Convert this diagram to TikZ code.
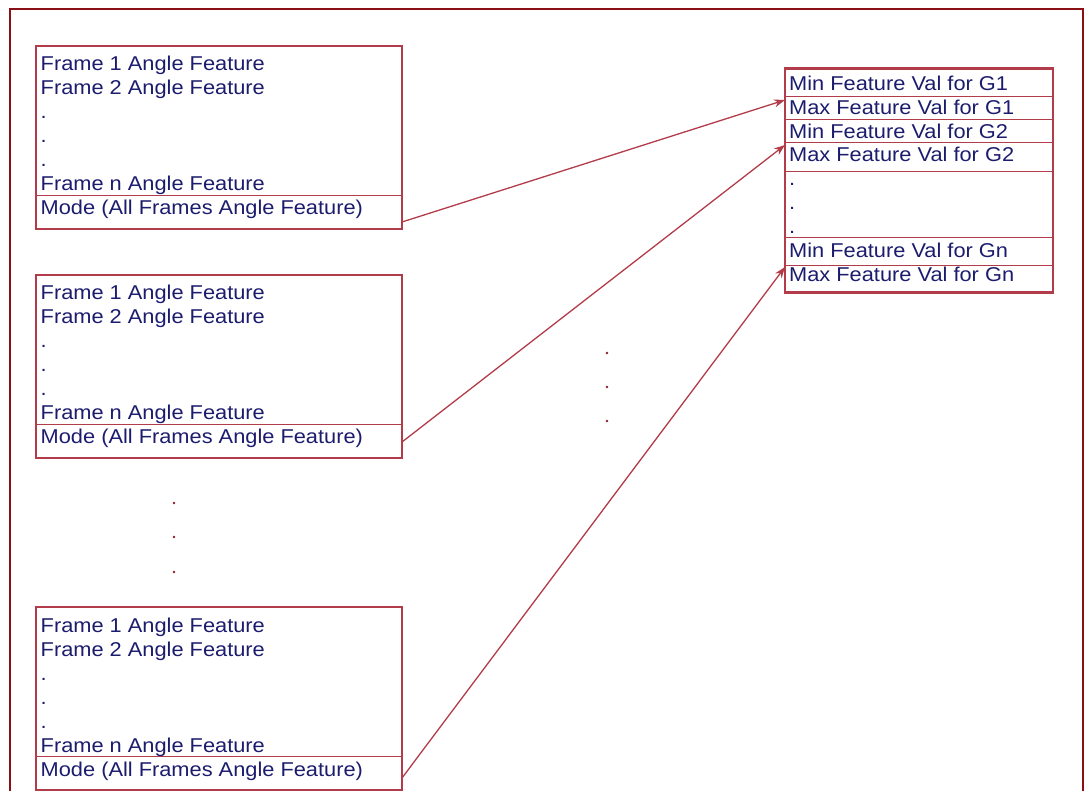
\documentclass[tikz,border=0pt]{standalone}
\usepackage{fontspec}
\setmainfont{Liberation Sans}[FakeStretch=1.09]
\usetikzlibrary{arrows.meta}
\definecolor{framered}{RGB}{139,16,22}
\definecolor{boxred}{RGB}{178,60,74}
\definecolor{inkblue}{RGB}{28,28,110}
\definecolor{dotred}{RGB}{140,30,45}

% One stack of per-frame angle features with its mode row.
% #1 = name prefix, #2 = vertical offset
\newcommand\featstack[2]{%
  \node[boxshape, minimum width=366pt, minimum height=183pt] (#1) at (36,{#2+46}) {};
  \draw[divider] (36,{#2+195.7}) -- (402,{#2+195.7});
  \node[rowtext] (#1-r1) at (40.5,{#2+71})  {Frame 1 Angle Feature};
  \node[rowtext] (#1-r2) at (40.5,{#2+95})  {Frame 2 Angle Feature};
  \node[rowtext] (#1-r3) at (40.5,{#2+119}) {.};
  \node[rowtext] (#1-r4) at (40.5,{#2+143}) {.};
  \node[rowtext] (#1-r5) at (40.5,{#2+167}) {.};
  \node[rowtext] (#1-rn) at (40.5,{#2+191}) {Frame n Angle Feature};
  \node[rowtext] (#1-mode) at (40.5,{#2+215}) {Mode (All Frames Angle Feature)};
}

\begin{document}
\begin{tikzpicture}[x=1pt,y=-1pt,
  boxshape/.style={draw=boxred, line width=2.4pt, rectangle, inner sep=0pt, outer sep=0pt, anchor=north west},
  divider/.style={draw=boxred, line width=1pt},
  rowtext/.style={inner sep=0pt, anchor=base west, text=inkblue, font=\fontsize{20}{24}\selectfont},
  link/.style={draw=boxred, line width=1.3pt, -{Stealth[length=11pt,width=8pt]}},
  gapdot/.style={circle, fill=dotred, inner sep=0pt, minimum size=2.8pt}]

\useasboundingbox (0,0) rectangle (1085,791);
\clip (0,0) rectangle (1085,791);

% outer frame
\draw[framered, line width=2pt] (10,9.5) rectangle (1082.5,800);

% feature stacks
\featstack{A}{0}
\featstack{B}{229}
\featstack{C}{561}

% vertical ellipsis between stacks
\node[gapdot] (v1) at (174,503) {};
\node[gapdot] (v2) at (174,537) {};
\node[gapdot] (v3) at (174,572) {};

% ellipsis between the connectors
\node[gapdot] (m1) at (607,353) {};
\node[gapdot] (m2) at (607,387) {};
\node[gapdot] (m3) at (607,421) {};

% per-group min/max table
\node[boxshape, minimum width=268pt, minimum height=224pt] (G) at (785,68.5) {};
\foreach \yy in {97,120,143,172,238,266}
  \draw[divider] (785,\yy) -- (1053,\yy);
\node[rowtext] (g1min) at (789,90.7)  {Min Feature Val for G1};
\node[rowtext] (g1max) at (789,114.5) {Max Feature Val for G1};
\node[rowtext] (g2min) at (789,138.3) {Min Feature Val for G2};
\node[rowtext] (g2max) at (789,162)   {Max Feature Val for G2};
\node[rowtext] (gd1) at (789,186) {.};
\node[rowtext] (gd2) at (789,210) {.};
\node[rowtext] (gd3) at (789,234) {.};
\node[rowtext] (gnmin) at (789,258) {Min Feature Val for Gn};
\node[rowtext] (gnmax) at (789,282) {Max Feature Val for Gn};

% connector end points
\coordinate (A-out) at (402,222);
\coordinate (B-out) at (402,442);
\coordinate (C-out) at (402,778);
\coordinate (G-in1) at (785,100);
\coordinate (G-in2) at (785,145);
\coordinate (G-in3) at (785,267);

\draw[link] (A-out) -- (G-in1);
\draw[link] (B-out) -- (G-in2);
\draw[link] (C-out) -- (G-in3);
\end{tikzpicture}
\end{document}
